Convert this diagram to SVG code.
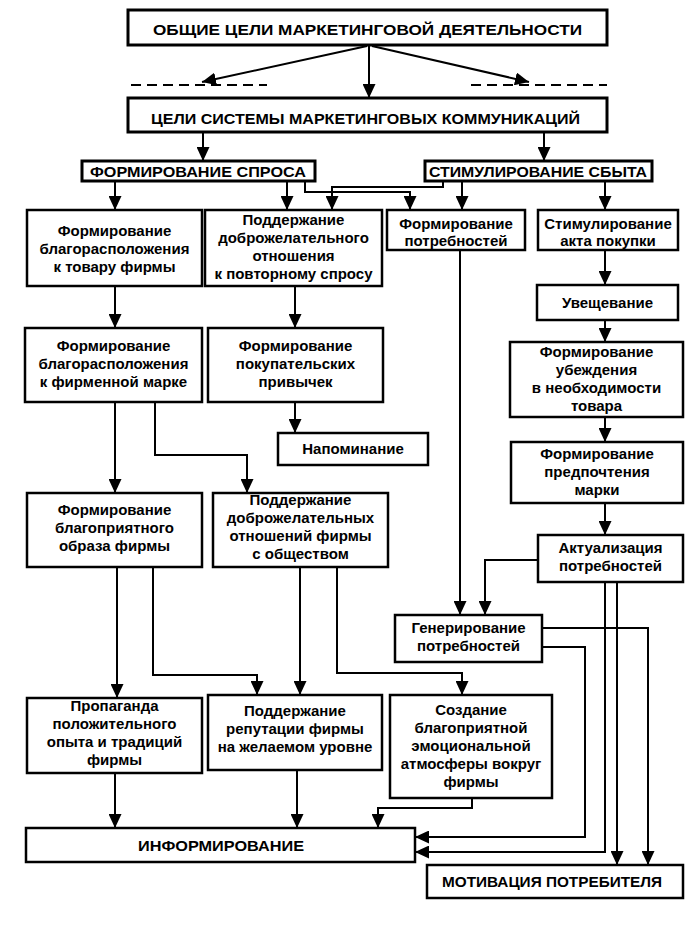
<svg xmlns="http://www.w3.org/2000/svg" width="694" height="951" viewBox="0 0 694 951">
<defs>
<marker id="ah" viewBox="0 0 14 13" refX="14" refY="6.5" markerWidth="14" markerHeight="13" markerUnits="userSpaceOnUse" orient="auto"><path d="M0,0 L14,6.5 L0,13 z" fill="#000"/></marker>
</defs>
<style>
.b{fill:#fff;stroke:#000;stroke-width:2.5}
.h{fill:#fff;stroke:#000;stroke-width:3}
.t{font-family:"Liberation Sans",Arial,sans-serif;font-size:15px;font-weight:bold;text-anchor:middle;fill:#000}
.c{fill:none;stroke:#000;stroke-width:2}
.a{marker-end:url(#ah)}
.d{stroke-dasharray:10 6}
</style>
<rect width="694" height="951" fill="#fff"/>
<g id="connectors">
<path class="c a" d="M369,45 V98"/>
<path class="c a" d="M367,46 L202,82"/>
<path class="c a" d="M372,46 L529,82"/>
<path class="c d" d="M131,85 H267"/>
<path class="c d" d="M471,85 H607"/>
<path class="c a" d="M203,132 V161"/>
<path class="c a" d="M544,132 V161"/>
<path class="c a" d="M115,181 V210"/>
<path class="c a" d="M287,181 V210"/>
<path class="c a" d="M305,181 V192 H410 V210"/>
<path class="c a" d="M443,181 V187 H332 V210"/>
<path class="c a" d="M462,181 V210"/>
<path class="c a" d="M605,181 V210"/>
<path class="c a" d="M115,286 V328"/>
<path class="c a" d="M295,286 V328"/>
<path class="c a" d="M605,250 V285"/>
<path class="c a" d="M605,320 V342"/>
<path class="c a" d="M605,417 V442"/>
<path class="c a" d="M605,503 V535"/>
<path class="c a" d="M295,402 V433"/>
<path class="c a" d="M115,402 V493"/>
<path class="c a" d="M155,402 V455 H247 V493"/>
<path class="c a" d="M117,567 V698"/>
<path class="c a" d="M153,567 V675 H257 V695"/>
<path class="c a" d="M300,567 V695"/>
<path class="c a" d="M337,567 V673 H462 V695"/>
<path class="c a" d="M115,773 V828"/>
<path class="c a" d="M297,770 V828"/>
<path class="c a" d="M472,798 V808 H378 V828"/>
<path class="c a" d="M460,250 V615"/>
<path class="c a" d="M538,560 H485 V615"/>
<path class="c a" d="M605,582 V852 H415"/>
<path class="c a" d="M617,582 V865"/>
<path class="c a" d="M542,628 H648 V865"/>
<path class="c a" d="M542,647 H585 V837 H415"/>
</g>
<g id="n-top"><rect class="h" x="128" y="10" width="479" height="35"/><text class="t" x="367.5" y="35" font-size="17" textLength="429" lengthAdjust="spacingAndGlyphs">ОБЩИЕ ЦЕЛИ МАРКЕТИНГОВОЙ ДЕЯТЕЛЬНОСТИ</text></g>
<g id="n-smk"><rect class="h" x="128" y="98" width="479" height="34"/><text class="t" x="365.5" y="124" font-size="16" textLength="429" lengthAdjust="spacingAndGlyphs">ЦЕЛИ СИСТЕМЫ МАРКЕТИНГОВЫХ КОММУНИКАЦИЙ</text></g>
<g id="n-spros"><rect class="h" x="82" y="161" width="233" height="20"/><text class="t" x="198" y="177" textLength="216" lengthAdjust="spacingAndGlyphs">ФОРМИРОВАНИЕ СПРОСА</text></g>
<g id="n-sbyt"><rect class="h" x="425" y="161" width="227" height="20"/><text class="t" x="538" y="177" textLength="218" lengthAdjust="spacingAndGlyphs">СТИМУЛИРОВАНИЕ СБЫТА</text></g>
<g id="n-r1a"><rect class="b" x="27" y="210" width="175" height="76"/><text class="t" x="114.5" y="235.5">Формирование</text><text class="t" x="114.5" y="253.5">благорасположения</text><text class="t" x="114.5" y="271.5">к товару фирмы</text></g>
<g id="n-r1b"><rect class="b" x="205" y="210" width="177" height="76"/><text class="t" x="293.5" y="225">Поддержание</text><text class="t" x="293.5" y="243">доброжелательного</text><text class="t" x="293.5" y="261">отношения</text><text class="t" x="293.5" y="279">к повторному спросу</text></g>
<g id="n-potr"><rect class="b" x="387" y="210" width="138" height="40"/><text class="t" x="456" y="229">Формирование</text><text class="t" x="456" y="246">потребностей</text></g>
<g id="n-akt"><rect class="b" x="538" y="210" width="140" height="40"/><text class="t" x="608" y="229">Стимулирование</text><text class="t" x="608" y="246">акта покупки</text></g>
<g id="n-uvesh"><rect class="b" x="537" y="285" width="141" height="35"/><text class="t" x="607.5" y="308">Увещевание</text></g>
<g id="n-r2a"><rect class="b" x="25" y="328" width="177" height="74"/><text class="t" x="113.5" y="351">Формирование</text><text class="t" x="113.5" y="369">благорасположения</text><text class="t" x="113.5" y="387">к фирменной марке</text></g>
<g id="n-r2b"><rect class="b" x="208" y="328" width="175" height="74"/><text class="t" x="295.5" y="351">Формирование</text><text class="t" x="295.5" y="369">покупательских</text><text class="t" x="295.5" y="387">привычек</text></g>
<g id="n-napom"><rect class="b" x="278" y="433" width="150" height="32"/><text class="t" x="353" y="454">Напоминание</text></g>
<g id="n-ubezh"><rect class="b" x="510" y="342" width="173" height="75"/><text class="t" x="596.5" y="357">Формирование</text><text class="t" x="596.5" y="375">убеждения</text><text class="t" x="596.5" y="393">в необходимости</text><text class="t" x="596.5" y="411">товара</text></g>
<g id="n-pred"><rect class="b" x="511" y="442" width="172" height="61"/><text class="t" x="597" y="459">Формирование</text><text class="t" x="597" y="477">предпочтения</text><text class="t" x="597" y="495">марки</text></g>
<g id="n-aktual"><rect class="b" x="538" y="535" width="145" height="47"/><text class="t" x="610.5" y="553">Актуализация</text><text class="t" x="610.5" y="571">потребностей</text></g>
<g id="n-r3a"><rect class="b" x="27" y="493" width="175" height="74"/><text class="t" x="114.5" y="515">Формирование</text><text class="t" x="114.5" y="533">благоприятного</text><text class="t" x="114.5" y="551">образа фирмы</text></g>
<g id="n-r3b"><rect class="b" x="213" y="493" width="175" height="74"/><text class="t" x="300.5" y="505">Поддержание</text><text class="t" x="300.5" y="523">доброжелательных</text><text class="t" x="300.5" y="541">отношений фирмы</text><text class="t" x="300.5" y="559">с обществом</text></g>
<g id="n-gen"><rect class="b" x="395" y="615" width="147" height="47"/><text class="t" x="468.5" y="633">Генерирование</text><text class="t" x="468.5" y="651">потребностей</text></g>
<g id="n-prop"><rect class="b" x="27" y="698" width="175" height="75"/><text class="t" x="114.5" y="711">Пропаганда</text><text class="t" x="114.5" y="729">положительного</text><text class="t" x="114.5" y="747">опыта и традиций</text><text class="t" x="114.5" y="765">фирмы</text></g>
<g id="n-rep"><rect class="b" x="208" y="695" width="174" height="75"/><text class="t" x="295" y="716">Поддержание</text><text class="t" x="295" y="734">репутации фирмы</text><text class="t" x="295" y="752">на желаемом уровне</text></g>
<g id="n-sozd"><rect class="b" x="390" y="695" width="162" height="103"/><text class="t" x="471" y="715">Создание</text><text class="t" x="471" y="733">благоприятной</text><text class="t" x="471" y="751">эмоциональной</text><text class="t" x="471" y="769">атмосферы вокруг</text><text class="t" x="471" y="787">фирмы</text></g>
<g id="n-inf"><rect class="b" x="26" y="828" width="389" height="34"/><text class="t" x="221" y="851" textLength="166" lengthAdjust="spacingAndGlyphs">ИНФОРМИРОВАНИЕ</text></g>
<g id="n-mot"><rect class="b" x="427" y="865" width="256" height="33"/><text class="t" x="552" y="887" textLength="220" lengthAdjust="spacingAndGlyphs">МОТИВАЦИЯ ПОТРЕБИТЕЛЯ</text></g>
</svg>
